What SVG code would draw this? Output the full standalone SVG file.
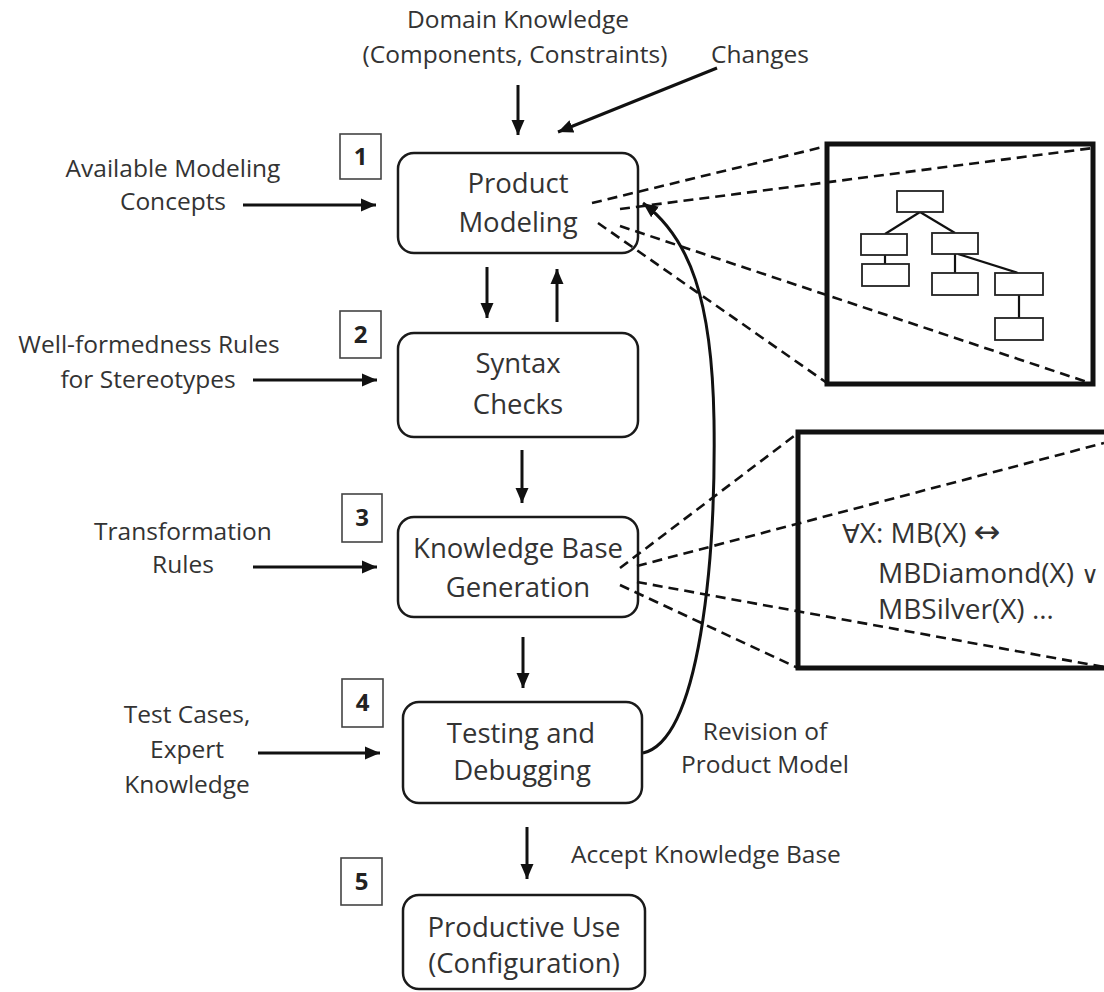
<svg xmlns="http://www.w3.org/2000/svg" width="1104" height="992" viewBox="0 0 1104 992">
  <defs>
    <style>
      text { font-family: "Open Sans", "Noto Sans", "Liberation Sans", sans-serif; fill: #333; }
      .lbl { font-size: 24.5px; text-anchor: middle; }
      .node-text { font-size: 27.5px; text-anchor: middle; }
      .num { font-size: 24px; font-weight: bold; text-anchor: middle; fill: #222; }
      .formula { font-size: 28px; text-anchor: start; }
      .sym { font-family: "DejaVu Sans", sans-serif; font-size: 26px; }
      .sym.big { font-size: 32px; }
      .sym.small { font-size: 24px; }
      .step { fill: #fff; stroke: #1a1a1a; stroke-width: 2.5; }
      .numbox { fill: #fff; stroke: #444; stroke-width: 1.6; }
      .arrow { fill: none; stroke: #111; stroke-width: 3; marker-end: url(#head); }
      .dash { fill: none; stroke: #111; stroke-width: 2.6; stroke-dasharray: 10 6; }
      .frame { fill: none; stroke: #111; stroke-width: 5; }
      .tree rect { fill: #fff; stroke: #222; stroke-width: 1.8; }
      .tree line { stroke: #111; stroke-width: 2.2; }
    </style>
    <marker id="head" markerUnits="userSpaceOnUse" markerWidth="16" markerHeight="16" viewBox="0 0 16 16" refX="15" refY="8" orient="auto">
      <path d="M0,1.5 L15,8 L0,14.5 Z" fill="#111"/>
    </marker>
  </defs>

  <!-- magnified views -->
  <g id="view-model">
    <rect class="frame" x="827" y="144" width="266" height="240"/>
    <g class="tree">
      <line x1="920" y1="212" x2="885" y2="234"/>
      <line x1="920" y1="212" x2="955" y2="233"/>
      <line x1="885" y1="255" x2="885" y2="264"/>
      <line x1="955" y1="254" x2="955" y2="273"/>
      <line x1="958" y1="254" x2="1018" y2="273"/>
      <line x1="1019" y1="295" x2="1019" y2="318"/>
      <rect x="897" y="191" width="46" height="21"/>
      <rect x="861" y="234" width="46" height="21"/>
      <rect x="862" y="264" width="47" height="22"/>
      <rect x="932" y="233" width="46" height="21"/>
      <rect x="932" y="273" width="46" height="22"/>
      <rect x="995" y="273" width="48" height="22"/>
      <rect x="995" y="318" width="48" height="22"/>
    </g>
  </g>

  <g id="view-formula">
    <rect class="frame" x="798" y="432" width="320" height="236"/>
    <text class="formula" x="842" y="543"><tspan class="sym">∀</tspan>X: MB(X) <tspan class="sym big">↔</tspan></text>
    <text class="formula" x="878" y="583">MBDiamond(X) <tspan class="sym small">∨</tspan></text>
    <text class="formula" x="878" y="619">MBSilver(X) …</text>
  </g>

  <!-- input labels -->
  <g id="labels">
    <text class="lbl" x="518" y="28">Domain Knowledge</text>
    <text class="lbl" x="515" y="63">(Components, Constraints)</text>
    <text class="lbl" x="760" y="63">Changes</text>
    <text class="lbl" x="173" y="177">Available Modeling</text>
    <text class="lbl" x="173" y="210">Concepts</text>
    <text class="lbl" x="149" y="353">Well-formedness Rules</text>
    <text class="lbl" x="148" y="388">for Stereotypes</text>
    <text class="lbl" x="183" y="540">Transformation</text>
    <text class="lbl" x="183" y="573">Rules</text>
    <text class="lbl" x="187" y="723">Test Cases,</text>
    <text class="lbl" x="187" y="758">Expert</text>
    <text class="lbl" x="187" y="793">Knowledge</text>
    <text class="lbl" x="765" y="740">Revision of</text>
    <text class="lbl" x="765" y="773">Product Model</text>
    <text class="lbl" x="706" y="863">Accept Knowledge Base</text>
  </g>

  <!-- process steps -->
  <g id="step-1">
    <rect class="numbox" x="340" y="134" width="41" height="45"/>
    <text class="num" x="360.5" y="165">1</text>
    <rect class="step" x="398" y="153" width="240" height="100" rx="16"/>
    <text class="node-text" x="518" y="193">Product</text>
    <text class="node-text" x="518" y="232">Modeling</text>
  </g>
  <g id="step-2">
    <rect class="numbox" x="340" y="311" width="41" height="47"/>
    <text class="num" x="360.5" y="343">2</text>
    <rect class="step" x="398" y="333" width="240" height="104" rx="16"/>
    <text class="node-text" x="518" y="373">Syntax</text>
    <text class="node-text" x="518" y="414">Checks</text>
  </g>
  <g id="step-3">
    <rect class="numbox" x="342" y="494" width="40" height="48"/>
    <text class="num" x="362" y="526">3</text>
    <rect class="step" x="398" y="517" width="240" height="100" rx="16"/>
    <text class="node-text" x="518" y="558">Knowledge Base</text>
    <text class="node-text" x="518" y="597">Generation</text>
  </g>
  <g id="step-4">
    <rect class="numbox" x="342" y="679" width="41" height="48"/>
    <text class="num" x="362.5" y="711">4</text>
    <rect class="step" x="403" y="702" width="239" height="101" rx="16"/>
    <text class="node-text" x="521" y="743">Testing and</text>
    <text class="node-text" x="522" y="780">Debugging</text>
  </g>
  <g id="step-5">
    <rect class="numbox" x="341" y="858" width="41" height="47"/>
    <text class="num" x="361.5" y="890">5</text>
    <rect class="step" x="403" y="895" width="242" height="94" rx="16"/>
    <text class="node-text" x="524" y="937">Productive Use</text>
    <text class="node-text" x="524" y="973">(Configuration)</text>
  </g>

  <!-- connectors -->
  <g id="connectors">
    <!-- inputs -->
    <line class="arrow" x1="518" y1="85" x2="518" y2="135"/>
    <line class="arrow" x1="717" y1="68" x2="558" y2="132"/>
    <line class="arrow" x1="243" y1="205" x2="376" y2="205"/>
    <line class="arrow" x1="253" y1="380" x2="377" y2="380"/>
    <line class="arrow" x1="253" y1="567" x2="377" y2="567"/>
    <line class="arrow" x1="258" y1="753" x2="380" y2="753"/>
    <!-- flow between steps -->
    <line class="arrow" x1="487" y1="267" x2="487" y2="318"/>
    <line class="arrow" x1="557" y1="322" x2="557" y2="269"/>
    <line class="arrow" x1="522" y1="450" x2="522" y2="503"/>
    <line class="arrow" x1="523" y1="637" x2="523" y2="688"/>
    <line class="arrow" x1="527" y1="827" x2="527" y2="879"/>
    <!-- revision loop -->
    <path class="arrow" d="M643,753 C700,740 716,560 714,420 C712,300 690,238 643,203"/>
    <!-- rays to magnified views -->
    <line class="dash" x1="592" y1="203" x2="827" y2="146"/>
    <line class="dash" x1="620" y1="209" x2="1093" y2="148"/>
    <line class="dash" x1="598" y1="223" x2="827" y2="383"/>
    <line class="dash" x1="620" y1="226" x2="1090" y2="383"/>
    <line class="dash" x1="620" y1="568" x2="798" y2="433"/>
    <line class="dash" x1="637" y1="566" x2="1104" y2="443"/>
    <line class="dash" x1="620" y1="585" x2="798" y2="668"/>
    <line class="dash" x1="637" y1="582" x2="1104" y2="667"/>
  </g>
</svg>
